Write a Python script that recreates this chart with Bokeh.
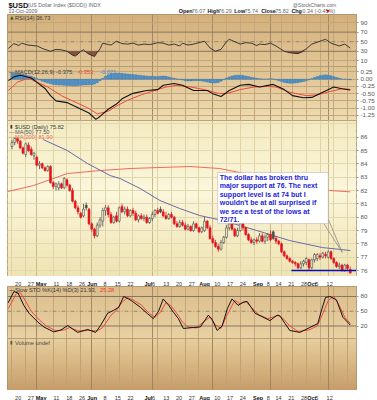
import pandas as pd
from bokeh.plotting import figure
from bokeh.layouts import column
from bokeh.models import (Range1d, FixedTicker, Label, BoxAnnotation,
                          Grid, ColumnDataSource, Span, NumeralTickFormatter)
from bokeh.embed import file_html
from bokeh.resources import INLINE

# ---------------------------------------------------------------- data
HOLIDAYS = ["2009-05-25", "2009-07-03", "2009-09-07"]
DAYS = [d.strftime("%Y-%m-%d") for d in pd.bdate_range("2009-04-20", "2009-10-13")]
DAYS = [d for d in DAYS if d not in HOLIDAYS]
DAY_INDEX = {d: i for i, d in enumerate(DAYS)}

TICK_DATES = ["2009-04-20", "2009-04-27", "2009-05-01", "2009-05-11", "2009-05-18", "2009-05-26",
              "2009-06-01", "2009-06-08", "2009-06-15", "2009-06-22", "2009-07-01", "2009-07-06",
              "2009-07-13", "2009-07-20", "2009-07-27", "2009-08-03", "2009-08-10", "2009-08-17",
              "2009-08-24", "2009-09-01", "2009-09-08", "2009-09-14", "2009-09-21", "2009-09-28",
              "2009-10-01", "2009-10-05", "2009-10-12"]
TICK_LABELS = ["20", "27", "May", "11", "18", "26", "Jun", "8", "15", "22", "Jul", "6", "13", "20",
               "27", "Aug", "10", "17", "24", "Sep", "8", "14", "21", "28", "Oct", "5", "12"]
MONTHS = ["May", "Jun", "Jul", "Aug", "Sep", "Oct"]

OPEN = [85.3, 85.6, 85.9, 85.7, 85.2, 84.7, 85.4, 85.1, 84.6, 84.5,
        83.9, 84.0, 83.7, 83.5, 83.8, 82.6, 82.3, 82.2, 82.5, 82.2,
        82.8, 82.4, 82.0, 81.2, 80.7, 80.3, 80.1, 80.9, 80.6, 79.5,
        79.1, 78.6, 79.4, 79.7, 80.5, 80.7, 80.2, 79.6, 80.1, 79.7,
        80.8, 80.4, 80.6, 80.1, 80.5, 80.3, 79.8, 80.1, 79.9, 80.0,
        79.6, 79.9, 80.2, 80.5, 80.6, 80.4, 80.1, 79.9, 80.2, 80.0,
        79.5, 79.3, 79.6, 79.4, 79.1, 79.3, 79.0, 79.5, 79.2, 78.9,
        79.0, 79.7, 79.2, 78.4, 78.1, 77.8, 77.6, 78.1, 78.5, 79.2,
        79.5, 79.1, 78.6, 79.0, 79.5, 79.2, 78.7, 78.3, 78.1, 78.3,
        78.2, 78.6, 78.2, 78.5, 78.7, 78.9, 78.4, 78.2, 78.0, 77.4,
        77.1, 76.9, 76.7, 76.6, 76.5, 76.2, 76.5, 76.6, 76.8, 76.2,
        76.8, 76.9, 77.1, 77.0, 77.2, 77.0, 77.4, 76.9, 76.6, 76.3,
        76.4, 76.0, 76.4, 76.07]
HIGH = [85.8, 86.0, 86.0, 85.8, 85.3, 85.6, 85.6, 85.3, 84.9, 84.6,
        84.2, 84.1, 83.8, 83.9, 83.9, 82.7, 82.6, 82.7, 82.6, 83.0,
        82.9, 82.5, 82.2, 81.3, 80.9, 80.4, 81.0, 81.1, 80.7, 79.6,
        79.2, 79.6, 80.0, 80.7, 80.9, 80.9, 80.4, 80.1, 80.4, 80.8,
        81.0, 80.8, 80.8, 80.6, 80.7, 80.5, 80.2, 80.3, 80.2, 80.2,
        80.0, 80.4, 80.6, 80.7, 80.8, 80.6, 80.4, 80.3, 80.4, 80.1,
        79.7, 79.8, 79.8, 79.6, 79.5, 79.4, 79.7, 79.6, 79.3, 79.3,
        80.0, 79.8, 79.4, 78.6, 78.3, 78.0, 78.3, 78.6, 79.4, 80.0,
        79.6, 79.2, 79.2, 79.7, 79.6, 79.3, 78.8, 78.5, 78.4, 78.5,
        78.8, 78.8, 78.7, 78.8, 79.0, 79.0, 78.6, 78.3, 78.1, 77.5,
        77.2, 77.0, 76.8, 76.7, 76.6, 76.7, 76.8, 77.0, 76.9, 76.9,
        77.3, 77.3, 77.3, 77.4, 77.4, 77.5, 77.5, 77.0, 76.7, 76.6,
        76.5, 76.5, 76.5, 76.29]
LOW = [85.1, 85.4, 85.5, 85.1, 84.7, 84.5, 84.9, 84.6, 84.3, 83.8,
       83.6, 83.6, 83.4, 83.4, 82.5, 82.1, 82.0, 82.0, 82.1, 82.1,
       82.3, 81.9, 81.1, 80.6, 80.2, 79.9, 80.0, 80.5, 79.4, 78.9,
       78.4, 78.5, 79.2, 79.3, 80.1, 80.0, 79.5, 79.5, 79.6, 79.6,
       80.3, 80.2, 80.0, 80.0, 80.1, 79.7, 79.6, 79.8, 79.7, 79.5,
       79.5, 79.7, 80.0, 80.2, 80.3, 80.0, 79.8, 79.8, 79.9, 79.4,
       79.2, 79.2, 79.3, 79.0, 79.0, 78.9, 78.9, 79.1, 78.8, 78.8,
       78.9, 79.1, 78.3, 78.0, 77.7, 77.4, 77.5, 78.0, 78.4, 79.0,
       79.0, 78.5, 78.5, 78.9, 79.0, 78.6, 78.2, 78.0, 77.9, 78.0,
       78.1, 78.1, 78.0, 78.2, 78.2, 78.3, 78.0, 77.9, 77.3, 77.0,
       76.8, 76.6, 76.5, 76.3, 76.1, 76.1, 76.3, 76.4, 76.0, 76.1,
       76.6, 76.7, 76.8, 76.9, 76.9, 76.9, 76.8, 76.5, 76.2, 76.1,
       75.9, 75.9, 76.0, 75.74]
CLOSE = [85.6, 85.9, 85.7, 85.2, 84.8, 85.5, 85.0, 84.7, 84.8, 83.9,
         84.0, 83.7, 83.5, 83.8, 82.6, 82.3, 82.5, 82.5, 82.2, 82.9,
         82.4, 82.0, 81.2, 80.7, 80.4, 80.0, 80.6, 80.7, 79.5, 79.1,
         78.6, 79.4, 79.8, 80.5, 80.7, 80.2, 79.6, 80.0, 79.7, 80.7,
         80.4, 80.6, 80.1, 80.5, 80.3, 79.8, 80.1, 79.9, 80.0, 79.6,
         79.9, 80.2, 80.5, 80.3, 80.4, 80.1, 79.9, 80.2, 80.0, 79.5,
         79.3, 79.6, 79.4, 79.1, 79.3, 79.0, 79.5, 79.2, 78.9, 79.2,
         79.7, 79.2, 78.4, 78.1, 77.8, 77.6, 78.1, 78.5, 79.2, 79.5,
         79.1, 78.6, 79.0, 79.5, 79.2, 78.7, 78.3, 78.1, 78.3, 78.2,
         78.6, 78.2, 78.5, 78.7, 78.3, 78.4, 78.2, 78.0, 77.4, 77.1,
         76.9, 76.7, 76.6, 76.5, 76.2, 76.5, 76.7, 76.9, 76.2, 76.8,
         77.2, 77.2, 77.0, 77.3, 77.1, 77.4, 76.9, 76.6, 76.3, 76.4,
         76.0, 76.4, 76.16, 75.82]

MA50_DAY = [11.4, 20.1, 27.4, 35.7, 39.3, 46.6, 53.8, 61, 68.3, 76.6, 89, 100.9, 112.9, 123]
MA50_VAL = [85.82, 85.0, 84.03, 83.12, 82.9, 82.15, 81.25, 80.65, 80.12, 79.75, 79.0, 78.25, 77.72, 77.5]
MA200_DAY = [-1.6, 7.8, 20.1, 32.1, 42.9, 64.7, 75.5, 82.8, 99.1, 115.4, 123]
MA200_VAL = [81.92, 82.37, 83.27, 83.5, 83.65, 83.8, 83.65, 83.35, 82.75, 82.0, 81.9]
SUPPORT_LEVEL = 76.0
SUPPORT_FROM_DAY = 101.6

RSI_DAY = [-1.3, 0.7, 2.5, 3.5, 5.8, 9.2, 11, 14, 16, 18, 20, 21, 22, 23, 24, 25, 26, 27, 28, 30,
           31, 32, 33, 35, 36, 38, 40, 42, 44, 46, 48, 50, 51, 53, 55, 57, 59, 61, 62, 64,
           66, 68, 70, 72, 74, 76, 78, 79, 81, 83, 85, 87, 89, 90, 92, 94, 96, 99, 101, 104,
           107, 109, 112, 113, 114, 116, 119, 121, 123]
RSI_VAL = [36, 46, 42, 47, 43, 41, 36, 30, 34, 33, 30, 26, 22, 20, 24, 30, 33, 28, 24, 19,
           28, 35, 47, 44, 43, 51, 46, 45, 47, 43, 45, 44, 45, 48, 47, 43, 45, 41, 47, 43,
           45, 48, 51, 37, 30, 34, 50, 55, 50, 45, 48, 47, 42, 45, 44, 47, 41, 30, 27, 25,
           35, 45, 51, 53, 55, 47, 41, 45, 36.73]

MACD_DAY = [-1.3, 0.7, 3, 7, 9, 12, 14, 16, 20, 24, 28, 30.5, 32, 35, 38, 40, 44, 49, 53, 55,
            59, 62, 66, 71, 73, 76, 79, 83, 86, 90, 95, 99, 102, 106, 109, 113, 117, 120, 123]
MACD_VAL = [-0.05, 0.08, 0.14, 0.04, -0.1, -0.32, -0.57, -0.75, -0.81, -0.99, -1.17, -1.39, -1.29,
            -1.04, -0.86, -0.68, -0.49, -0.39, -0.36, -0.21, -0.15, -0.21, -0.39, -0.39, -0.5, -0.6,
            -0.39, -0.21, -0.18, -0.27, -0.18, -0.36, -0.57, -0.64, -0.63, -0.45, -0.27, -0.33, -0.375]
SIGNAL_DAY = [-1.3, 2, 6, 9, 13, 18, 22, 27.5, 31, 35, 38, 42, 47, 51, 56, 60, 65, 70, 75, 78,
              83, 88, 93, 96, 101, 107, 111, 116, 120, 123]
SIGNAL_VAL = [-0.39, -0.1, 0.04, -0.1, -0.27, -0.57, -0.75, -0.99, -1.2, -1.11, -0.93, -0.73, -0.54,
              -0.42, -0.27, -0.21, -0.27, -0.36, -0.49, -0.5, -0.36, -0.27, -0.25, -0.27, -0.45,
              -0.57, -0.54, -0.42, -0.33, -0.353]
HIST = [0.2, 0.21, 0.2, 0.19, 0.17, 0.15, 0.12, 0.1, 0.06, 0.02,
        -0.03, -0.07, -0.1, -0.13, -0.16, -0.18, -0.19, -0.2, -0.2, -0.21,
        -0.22, -0.22, -0.23, -0.23, -0.22, -0.21, -0.2, -0.2, -0.19, -0.19,
        -0.17, -0.12, -0.05, 0.03, 0.1, 0.15, 0.18, 0.2, 0.21, 0.21,
        0.2, 0.19, 0.18, 0.17, 0.16, 0.15, 0.14, 0.13, 0.12, 0.11,
        0.1, 0.1, 0.09, 0.09, 0.1, 0.11, 0.1, 0.08, 0.05, 0.03,
        0.01, -0.01, -0.03, -0.05, -0.06, -0.06, -0.05, -0.05, -0.05, -0.06,
        -0.08, -0.1, -0.12, -0.13, -0.13, -0.11, -0.07, -0.02, 0.04, 0.08,
        0.11, 0.13, 0.14, 0.14, 0.13, 0.11, 0.09, 0.07, 0.05, 0.03,
        0.02, 0.01, 0.0, 0.01, 0.02, 0.01, -0.02, -0.05, -0.08, -0.11,
        -0.13, -0.14, -0.14, -0.13, -0.12, -0.1, -0.08, -0.05, -0.02, 0.02,
        0.06, 0.09, 0.12, 0.14, 0.15, 0.14, 0.12, 0.09, 0.06, 0.03,
        0.01, 0.0, -0.01, -0.021]

STOK_DAY = [-1.4, 0.7, 2.2, 4.3, 6.2, 9.4, 11.6, 15.2, 17.8, 20.3, 22, 23.9, 27.5, 30.4, 32.2,
            34.8, 37, 38.8, 40.6, 42.4, 43.8, 46.7, 49.3, 51.4, 53.3, 55, 57, 58.7, 60.5, 62.3,
            66, 68.5, 71.4, 72.8, 74.6, 76.4, 78.3, 80, 82.2, 84, 85.5, 88.4, 91.3, 93.8, 96.4,
            97.5, 99.3, 101, 104.7, 108.3, 111.2, 112.7, 114, 115.6, 118, 120.3, 122, 123]
STOK_VAL = [67, 90, 87, 62, 46, 28, 18, 8, 12, 21, 14, 7, 13, 7, 21, 46, 52, 58, 80, 75,
            70, 58, 45, 35, 50, 75, 62, 48, 35, 15, 17, 18, 42, 33, 11, 20, 55, 75, 62, 68,
            70, 46, 38, 31, 42, 40, 25, 11, 7, 17, 25, 55, 78, 80, 73, 38, 28, 21.93]
STOD_DAY = [-1.4, 1.5, 3, 5, 7, 10, 12.5, 16, 19, 21, 24, 28, 31, 33, 36, 38, 40, 42, 44, 47,
            50, 52, 54, 56, 58, 60, 62, 64, 67, 70, 72, 74, 76, 78, 81, 83, 85, 87, 90, 93,
            97, 99, 101, 104, 108, 111, 113, 115, 117, 119, 121, 123]
STOD_VAL = [55, 85, 88, 70, 50, 32, 20, 10, 12, 17, 10, 11, 10, 17, 42, 52, 68, 78, 73, 63,
            45, 38, 48, 68, 60, 45, 28, 18, 16, 30, 38, 22, 15, 40, 72, 65, 70, 58, 42, 35,
            42, 33, 20, 9, 12, 20, 45, 72, 80, 62, 38, 25.28]

NOTE_LINES = ["The dollar has broken thru", "major support at 76. The next",
              "support level is at 74 but I", "wouldn't be at all surprised if",
              "we see a test of the lows at", "72/71."]

# ---------------------------------------------------------------- layout helpers
W, LB, RB, FW = 377, 7, 20, 350
FONT = "Liberation Sans"
XR = Range1d(-1.63, 125.27)
PX_PER_DAY = FW / (XR.end - XR.start)
TICKS = [DAY_INDEX[d] for d in TICK_DATES]
MONTH_TICKS = [t for t, l in zip(TICKS, TICK_LABELS) if l in MONTHS]


def mix(c1, c2, t):
    return "#%02x%02x%02x" % tuple(int(round(a + (b - a) * t)) for a, b in zip(c1, c2))


def shade(p, y0, y1, stops, n=24):
    span = y1 - y0
    for k in range(n):
        t = (k + 0.5) / n
        col = mix(stops[-1][1], stops[-1][1], 0)
        for (t0, c0), (t1, c1) in zip(stops[:-1], stops[1:]):
            if t0 <= t <= t1:
                col = mix(c0, c1, (t - t0) / (t1 - t0))
                break
        top = y1 - span * k / n
        bot = max(y0, y1 - span * (k + 1.3) / n)
        p.add_layout(BoxAnnotation(top=top, bottom=bot, fill_color=col, fill_alpha=1.0,
                                   line_color=None, level="image"))


def panel(h, y0, y1, stops, yticks, fmt=None):
    p = figure(width=W, height=h, x_range=XR, y_range=Range1d(y0, y1), output_backend="svg",
               toolbar_location=None, x_axis_location=None, y_axis_location="right",
               min_border_left=LB, min_border_right=RB, min_border_top=0, min_border_bottom=0)
    p.border_fill_color = "white"
    p.background_fill_color = mix(stops[0][1], stops[-1][1], 0.5)
    p.outline_line_color = "#a48e6c"
    p.grid.visible = False
    shade(p, y0, y1, stops)
    ax = p.yaxis[0]
    if yticks:
        ax.ticker = FixedTicker(ticks=yticks)
        ax.major_label_text_font = FONT
        ax.major_label_text_font_size = "6.2px"
        ax.major_label_text_color = "#555555"
        ax.major_tick_out = 2
        ax.major_tick_in = 0
        ax.minor_tick_out = 0
        ax.minor_tick_in = 0
        ax.major_tick_line_color = "#9a9a9a"
        ax.axis_line_color = None
        ax.major_label_standoff = 2
        if fmt:
            ax.formatter = fmt
    else:
        ax.visible = False
    return p


def vgrid(p, color, month_color):
    p.add_layout(Grid(dimension=0, ticker=FixedTicker(ticks=TICKS), grid_line_color=color))
    p.add_layout(Grid(dimension=0, ticker=FixedTicker(ticks=MONTH_TICKS), grid_line_color=month_color))


def hgrid(p, ticks, color):
    p.add_layout(Grid(dimension=1, ticker=FixedTicker(ticks=ticks), grid_line_color=color))


def txt(p, x, y, s, size="5.7px", color="#3a3a3a", bold=False, xo=0, yo=0, align="left",
        baseline="middle", font=FONT):
    p.add_layout(Label(x=x, y=y, x_offset=xo, y_offset=yo, text=s, text_font=font,
                       text_font_size=size, text_color=color,
                       text_font_style="bold" if bold else "normal",
                       text_align=align, text_baseline=baseline))


def date_strip(h, ymid):
    # a thin strip whose frame spans the full width, sharing the day scale of the panels
    s = figure(width=W, height=h,
               x_range=Range1d(XR.start - LB / PX_PER_DAY, XR.end + RB / PX_PER_DAY),
               y_range=Range1d(h, 0), output_backend="svg", toolbar_location=None,
               x_axis_location=None, y_axis_location=None, min_border=0)
    s.outline_line_color = None
    s.grid.visible = False
    s.background_fill_color = "white"
    s.border_fill_color = "white"
    for t, l in zip(TICKS, TICK_LABELS):
        bold = l in MONTHS
        txt(s, t, ymid, l, size="5.5px", color="#111111" if bold else "#333333", bold=bold,
            align="center")
    return s


TAN_LINE = "#c4a67a"
TAN_MONTH = "#a38a68"
DARK = "#857565"

# ---------------------------------------------------------------- header
hdr = figure(width=W, height=14, x_range=Range1d(0, W), y_range=Range1d(14, 0),
             output_backend="svg", toolbar_location=None, x_axis_location=None,
             y_axis_location=None, min_border=0)
hdr.outline_line_color = None
hdr.grid.visible = False
hdr.background_fill_color = "white"
hdr.border_fill_color = "white"
txt(hdr, 1, 4.8, "$USD", size="7.5px", color="#111111", bold=True)
txt(hdr, 22, 4.8, "(US Dollar Index ($DOD)) INDX", size="5.2px", color="#666666")
txt(hdr, 355, 4.8, "@StockCharts.com", size="5px", color="#666666", align="right")
txt(hdr, 1, 10.6, "13-Oct-2009", size="5.2px", color="#666666")
for xx, s, b in [(185, "Open", True), (199, "76.07", False), (216, "High", True),
                 (227.7, "76.29", False), (245, "Low", True), (256, "75.74", False),
                 (274, "Close", True), (289.3, "75.82", False), (306.7, "Chg", True),
                 (316.7, "-0.34 (-0.45%)", False)]:
    txt(hdr, xx, 10.4, s, size="5.4px", color="#111111" if b else "#666666", bold=b)
txt(hdr, 344.5, 10.4, "\u25be", size="6px", color="#dd0000", font="DejaVu Sans")

# ---------------------------------------------------------------- RSI
RSI_Y0, RSI_Y1 = -1.7, 106.7
rsi = panel(52, RSI_Y0, RSI_Y1, [(0, (211, 176, 122)), (1, (226, 198, 150))], [10, 30, 50, 70, 90])
vgrid(rsi, TAN_LINE, TAN_MONTH)
hgrid(rsi, [10, 90], TAN_LINE)
for lv in (30, 70):
    rsi.add_layout(Span(location=lv, dimension="width", line_color=DARK, line_width=1, level="underlay"))
rsi.add_layout(Span(location=50, dimension="width", line_color=DARK, line_width=0.8,
                    line_dash="4 2 1 2", level="underlay"))
rsi.varea(x=RSI_DAY, y1=[min(v, 30) for v in RSI_VAL], y2=[30] * len(RSI_VAL),
          fill_color="#7a4634", fill_alpha=0.9)
rsi.line(RSI_DAY, RSI_VAL, line_color="#2a2a2a", line_width=0.9)
txt(rsi, XR.start, RSI_Y1, "\u25b2", size="4.6px", color="#2f5f2a", xo=2.5, yo=-3.3, font="DejaVu Sans")
txt(rsi, XR.start, RSI_Y1, "RSI(14) 36.73", xo=7.5, yo=-3.3)

# ---------------------------------------------------------------- MACD
M_Y0, M_Y1 = -1.43, 0.44
macd = panel(54, M_Y0, M_Y1, [(0, (222, 194, 146)), (1, (238, 220, 178))],
             [0.25, 0, -0.25, -0.5, -0.75, -1.0, -1.25], fmt=NumeralTickFormatter(format="0.00"))
vgrid(macd, TAN_LINE, TAN_MONTH)
hgrid(macd, [0.25, 0, -0.25, -0.5, -0.75, -1.0, -1.25], TAN_LINE)
macd.vbar(x=list(range(len(HIST))), top=HIST, bottom=0, width=0.8,
          fill_color="#4a93d2", line_color="#2c6aa6", line_width=0.4)
macd.line(SIGNAL_DAY, SIGNAL_VAL, line_color="#f04a38", line_width=1)
macd.line(MACD_DAY, MACD_VAL, line_color="#111111", line_width=1.1)
txt(macd, XR.start, M_Y1, "\u2014", color="#111111", xo=1.5, yo=-5.7)
txt(macd, XR.start, M_Y1, "MACD(12,26,9) -0.375,", xo=7.5, yo=-5.7)
txt(macd, XR.start, M_Y1, "-0.353,", color="#e8402e", xo=69.5, yo=-5.7)
txt(macd, XR.start, M_Y1, "-0.021", color="#3a86c8", xo=92.5, yo=-5.7)

# ---------------------------------------------------------------- price
P_Y0, P_Y1 = 75.55, 87.25
price = panel(156, P_Y0, P_Y1, [(0, (243, 234, 192)), (0.45, (251, 247, 220)), (1, (239, 227, 178))],
              list(range(76, 87)))
vgrid(price, "#e0d4a6", "#cbb98c")
hgrid(price, list(range(76, 88)), "#e2d7ad")

n = len(CLOSE)
prev_close = [OPEN[0]] + CLOSE[:-1]
rows = []
for i in range(n):
    o, h, l, c = OPEN[i], HIGH[i], LOW[i], CLOSE[i]
    col = "#e3141c" if c < prev_close[i] else "#4a4a4a"
    top, bot = max(o, c), min(o, c)
    if top - bot < 0.04:
        top, bot = top + 0.02, bot - 0.02
    rows.append((i, h, l, top, bot, col, c < o))
allsrc = ColumnDataSource(dict(x=[r[0] for r in rows], hi=[r[1] for r in rows], lo=[r[2] for r in rows],
                               col=[r[5] for r in rows]))
filled = [r for r in rows if r[6]]
hollow = [r for r in rows if not r[6]]
fsrc = ColumnDataSource(dict(x=[r[0] for r in filled], top=[r[3] for r in filled],
                             bot=[r[4] for r in filled], col=[r[5] for r in filled]))
hsrc = ColumnDataSource(dict(x=[r[0] for r in hollow], top=[r[3] for r in hollow],
                             bot=[r[4] for r in hollow], col=[r[5] for r in hollow]))
price.line(MA200_DAY, MA200_VAL, line_color="#f06a60", line_width=1)
price.line(MA50_DAY, MA50_VAL, line_color="#6a6aa8", line_width=1)
price.segment(x0="x", y0="hi", x1="x", y1="lo", line_color="col", line_width=0.8, source=allsrc)
price.vbar(x="x", top="top", bottom="bot", width=0.7, fill_color="col", line_color="col",
           line_width=0.6, source=fsrc)
price.vbar(x="x", top="top", bottom="bot", width=0.7, fill_color="#f8f2d2", line_color="col",
           line_width=0.6, source=hsrc)
price.line([SUPPORT_FROM_DAY, XR.end], [SUPPORT_LEVEL, SUPPORT_LEVEL], line_color="#0a0ac0", line_width=1.3)

# callout box
NOTE_LEFT, NOTE_RIGHT, NOTE_TOP, NOTE_BOTTOM = 74.8, 115.0, 83.35, 79.52
NOTE_TIP = (120.1, 77.35)
price.line([113.4, NOTE_TIP[0]], [NOTE_BOTTOM, NOTE_TIP[1]], line_color="#8a8a8a", line_width=0.8)
price.line([NOTE_RIGHT, NOTE_TIP[0]], [79.85, NOTE_TIP[1]], line_color="#8a8a8a", line_width=0.8)
price.add_layout(BoxAnnotation(left=NOTE_LEFT, right=NOTE_RIGHT, top=NOTE_TOP, bottom=NOTE_BOTTOM,
                               fill_color="white", fill_alpha=1.0, line_color="#7c7c7c",
                               line_width=1, level="annotation"))
for k, s in enumerate(NOTE_LINES):
    txt(price, NOTE_LEFT, NOTE_TOP, s, size="7px", color="#1c1cd8", bold=True, xo=2,
        yo=-(4.8 + 8.5 * k))

txt(price, XR.start, P_Y1, "\u25ae", size="4.6px", color="#333333", xo=2.5, yo=-6, font="DejaVu Sans")
txt(price, XR.start, P_Y1, "$USD (Daily) 75.82", xo=7.5, yo=-6)
txt(price, XR.start, P_Y1, "\u2014", color="#5a5aa0", xo=1.5, yo=-11)
txt(price, XR.start, P_Y1, "MA(50) 77.50", color="#555555", xo=7.5, yo=-11)
txt(price, XR.start, P_Y1, "\u2014", color="#f06a60", xo=1.5, yo=-16)
txt(price, XR.start, P_Y1, "MA(200) 81.90", color="#e86a5a", xo=7.5, yo=-16)

strip1 = date_strip(10, 5.2)

# ---------------------------------------------------------------- slow stochastic
S_Y0, S_Y1 = -5.4, 100.3
sto = panel(52, S_Y0, S_Y1, [(0, (219, 189, 139)), (1, (233, 209, 163))], [20, 50, 80])
vgrid(sto, TAN_LINE, TAN_MONTH)
for lv in (20, 80):
    sto.add_layout(Span(location=lv, dimension="width", line_color=DARK, line_width=1, level="underlay"))
sto.add_layout(Span(location=50, dimension="width", line_color=DARK, line_width=0.8,
                    line_dash="4 2 1 2", level="underlay"))
sto.line(STOD_DAY, STOD_VAL, line_color="#f04a38", line_width=1)
sto.line(STOK_DAY, STOK_VAL, line_color="#111111", line_width=1)
txt(sto, XR.start, S_Y1, "\u2014", color="#111111", xo=1.5, yo=-3.2)
txt(sto, XR.start, S_Y1, "Slow STO %K(14) %D(3) 21.93,", xo=7.5, yo=-3.2)
txt(sto, XR.start, S_Y1, "25.28", color="#e8402e", xo=92.5, yo=-3.2)

# ---------------------------------------------------------------- volume (empty)
vol = panel(52, 0, 1, [(0, (231, 207, 158)), (1, (198, 156, 104))], [])
vgrid(vol, "#c2a173", "#a2845f")
txt(vol, XR.start, 1, "\u25ae", size="4.6px", color="#555555", xo=2.5, yo=-4, font="DejaVu Sans")
txt(vol, XR.start, 1, "Volume undef", color="#4a4a4a", xo=7.5, yo=-4)

strip2 = date_strip(10, 5.2)

layout = column(hdr, rsi, macd, price, strip1, sto, vol, strip2, spacing=0)
open("out.html", "w").write(file_html(layout, INLINE))
